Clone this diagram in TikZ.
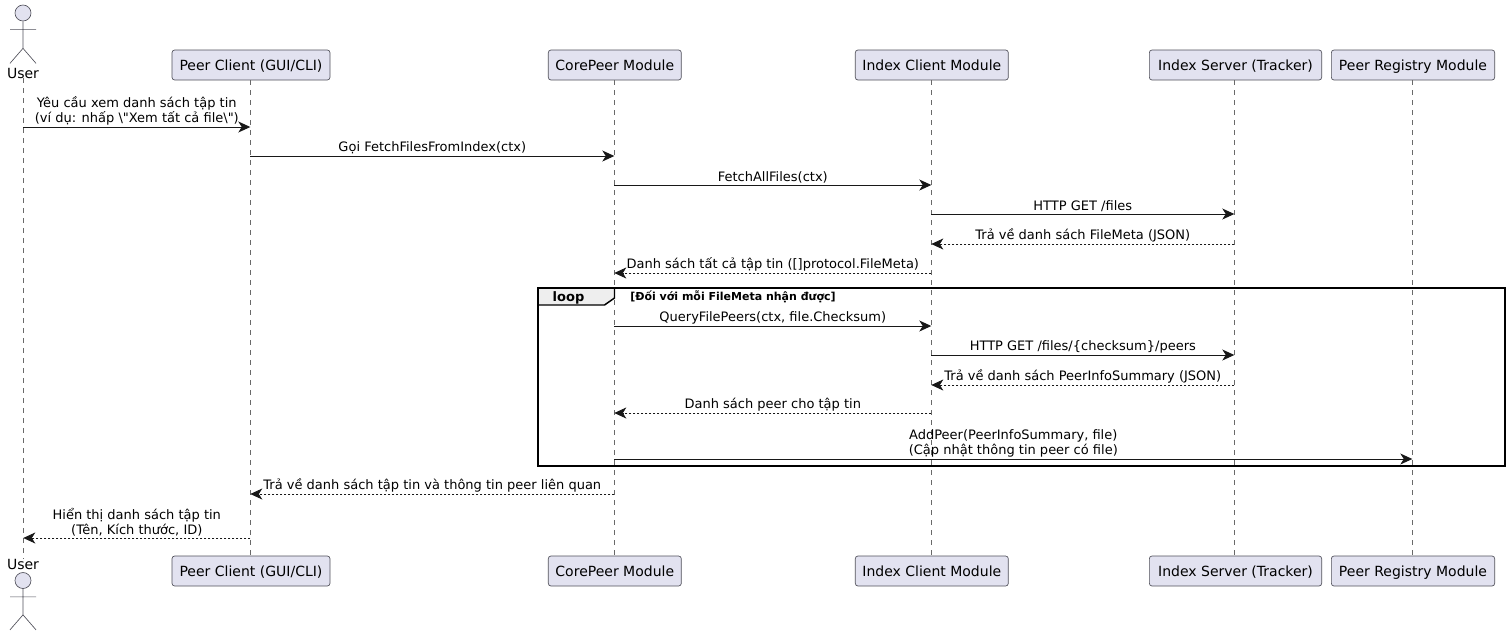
\documentclass[tikz,border=0pt]{standalone}
\usepackage{fontspec}
\setmainfont[Ligatures=TeXOff]{DejaVu Sans}
\usetikzlibrary{arrows.meta,positioning,calc}
\definecolor{headfill}{RGB}{226,226,240}
\definecolor{headline}{RGB}{24,24,24}
\definecolor{boxline}{RGB}{80,80,90}
\definecolor{lifegray}{RGB}{105,105,105}
\definecolor{tabfill}{RGB}{238,238,238}

\begin{document}
\begin{tikzpicture}[x=0.75pt,y=-0.75pt,
  >={Stealth[length=9pt,width=8.25pt,inset=2.6pt]},
  head/.style={draw=boxline,line width=0.5pt,rounded corners=2pt,fill=headfill,
               minimum height=22.5pt,inner sep=0pt,text height=9.4pt,text depth=1.4pt,
               font=\fontsize{10.5pt}{12pt}\selectfont},
  actorname/.style={inner sep=0pt,font=\fontsize{10.5pt}{12pt}\selectfont},
  actorhead/.style={circle,draw=boxline,line width=0.5pt,fill=headfill,minimum size=12pt,inner sep=0pt},
  actorline/.style={draw=boxline,line width=0.5pt},
  lifeline/.style={draw=lifegray,line width=0.4pt,dash pattern=on 3.75pt off 3.75pt},
  call/.style={->,line width=0.75pt,draw=headline},
  reply/.style={->,line width=0.6pt,draw=headline,dash pattern=on 1.5pt off 1.5pt},
  lbl/.style={above,align=center,inner sep=0pt,yshift=1.2pt,
              font=\fontsize{9.75pt}{11.25pt}\selectfont}]
\useasboundingbox (0,0) rectangle (1509,636);
% heads
\node[actorname] (user) at (23,73) {User};
\node[head,minimum width=118.5pt] (peer) at (251,65) {Peer Client (GUI/CLI)};
\node[head,minimum width=99.75pt] (core) at (614.8,65) {CorePeer Module};
\node[head,minimum width=114.75pt] (index) at (931.8,65) {Index Client Module};
\node[head,minimum width=129.25pt] (server) at (1235.5,65) {Index Server (Tracker)};
\node[head,minimum width=122.5pt] (registry) at (1413,65) {Peer Registry Module};
% feet
\node[actorname] (userF) at (23,564) {User};
\node[head,minimum width=118.5pt] (peerF) at (251,571) {Peer Client (GUI/CLI)};
\node[head,minimum width=99.75pt] (coreF) at (614.8,571) {CorePeer Module};
\node[head,minimum width=114.75pt] (indexF) at (931.8,571) {Index Client Module};
\node[head,minimum width=129.25pt] (serverF) at (1235.5,571) {Index Server (Tracker)};
\node[head,minimum width=122.5pt] (registryF) at (1413,571) {Peer Registry Module};
% actors
\node[actorhead] (userHead) at (23,13) {};
\draw[actorline] (userHead.south) -- ++(0,27) -- ++(-13,15) ++(13,-15) -- ++(13,15)
  (userHead.south) ++(-13,8) -- ++(26,0);
\node[actorhead] (userHeadF) at (23,580.5) {};
\draw[actorline] (userHeadF.south) -- ++(0,26) -- ++(-13,15) ++(13,-15) -- ++(13,15)
  (userHeadF.south) ++(-13,8) -- ++(26,0);
% lifelines
\foreach \who/\xx in {user/23.3,peer/250.3,core/614.3,index/931.3,server/1234.3,registry/1412.3}{
  \coordinate (\who L) at (\xx,0);
  \draw[lifeline] (\who L |- \who.south) -- (\who L |- \who F.north);
}
% message rows
\foreach \row/\yy in {m1/127,m2/156,m3/185,m4/214,m5/244,m6/273,m7/326,m8/355,m9/385,m10/413,m11/459,m12/494,m13/538}
  \coordinate (\row) at (0,\yy);
\draw[call] (userL |- m1) -- node[lbl] (t1) {Yêu cầu xem danh sách tập tin\\(ví dụ: nhấp \textbackslash"Xem tất cả file\textbackslash")} (peerL |- m1);
\draw[call] (peerL |- m2) -- node[lbl] (t2) {Gọi FetchFilesFromIndex(ctx)} (coreL |- m2);
\draw[call] (coreL |- m3) -- node[lbl] (t3) {FetchAllFiles(ctx)} (indexL |- m3);
\draw[call] (indexL |- m4) -- node[lbl] (t4) {HTTP GET /files} (serverL |- m4);
\draw[reply] (serverL |- m5) -- node[lbl] (t5) {Trả về danh sách FileMeta (JSON)} (indexL |- m5);
\draw[reply] (indexL |- m6) -- node[lbl] (t6) {Danh sách tất cả tập tin ([]protocol.FileMeta)} (coreL |- m6);
\draw[call] (coreL |- m7) -- node[lbl] (t7) {QueryFilePeers(ctx, file.Checksum)} (indexL |- m7);
\draw[call] (indexL |- m8) -- node[lbl] (t8) {HTTP GET /files/\{checksum\}/peers} (serverL |- m8);
\draw[reply] (serverL |- m9) -- node[lbl] (t9) {Trả về danh sách PeerInfoSummary (JSON)} (indexL |- m9);
\draw[reply] (indexL |- m10) -- node[lbl] (t10) {Danh sách peer cho tập tin} (coreL |- m10);
\draw[call] (coreL |- m11) -- node[lbl] (t11) {AddPeer(PeerInfoSummary, file)\\(Cập nhật thông tin peer có file)} (registryL |- m11);
\draw[reply] (coreL |- m12) -- node[lbl] (t12) {Trả về danh sách tập tin và thông tin peer liên quan} (peerL |- m12);
\draw[reply] (peerL |- m13) -- node[lbl] (t13) {Hiển thị danh sách tập tin\\(Tên, Kích thước, ID)} (userL |- m13);
% loop frame
\draw[fill=tabfill,line width=1.1pt] (538,288) -- (614.5,288) -- (614.5,298) -- (604.5,305) -- (538,305) -- cycle;
\draw[line width=1.1pt] (538,288) rectangle (1505,466);
\node[inner sep=0pt,font=\bfseries\fontsize{9.75pt}{11.25pt}\selectfont] (loopTag) at (568.5,297.5) {loop};
\node[right,inner sep=0pt,font=\bfseries\fontsize{8.25pt}{10pt}\selectfont] (loopCond) at (630,297) {[Đối với mỗi FileMeta nhận được]};
\end{tikzpicture}
\end{document}
